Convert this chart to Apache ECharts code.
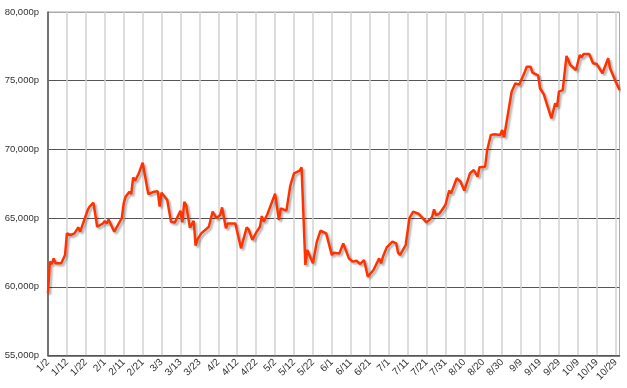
<!DOCTYPE html>
<html><head><meta charset="utf-8">
<script src="https://cdn.jsdelivr.net/npm/echarts@6/dist/echarts.min.js"></script>
<style>html,body{margin:0;padding:0;background:#fff}#c{width:627px;height:388px}</style>
</head><body><div id="c"></div>
<script>
// Trading dates (M/D) and prices
const dates = ['1/2','1/3','1/4','1/5','1/6','1/9','1/11','1/12','1/14','1/16','1/18','1/19','1/23','1/24','1/26','1/27','1/28','1/31',
'2/1','2/2','2/3','2/6','2/8','2/10','2/11','2/12','2/14','2/15','2/16','2/17','2/19','2/21','2/24','2/27',
'3/1','3/2','3/3','3/6','3/8','3/10','3/13','3/14','3/15','3/16','3/18','3/20','3/21','3/22','3/23','3/24','3/28','3/30',
'4/1','4/3','4/4','4/6','4/7','4/11','4/14','4/17','4/18','4/20','4/22','4/24','4/25','4/26','4/27','4/28',
'5/2','5/4','5/5','5/8','5/10','5/11','5/12','5/15','5/16','5/18','5/19','5/22','5/24','5/25','5/26','5/29','5/30',
'6/1','6/2','6/5','6/7','6/9','6/10','6/12','6/14','6/16','6/18','6/20','6/21','6/23','6/24','6/26','6/27','6/28','6/30',
'7/3','7/5','7/6','7/7','7/10','7/12','7/14','7/17','7/18','7/21','7/23','7/24','7/25','7/26','7/28','7/31',
'8/2','8/3','8/6','8/8','8/10','8/13','8/15','8/17','8/18','8/21','8/22','8/24','8/26','8/29','8/30','8/31',
'9/1','9/4','9/6','9/8','9/11','9/12','9/14','9/15','9/18','9/19','9/21','9/25','9/26','9/27','9/28','9/29',
'10/1','10/3','10/4','10/5','10/8','10/10','10/11','10/12','10/13','10/15','10/17','10/18','10/19','10/20','10/22','10/23','10/25','10/26','10/27','10/29','10/31'];
const prices = [59550,61830,61660,62070,61710,61710,62310,63890,63770,63890,64330,64010,65590,65830,66120,66030,64370,64610,
64780,64610,64900,64010,64500,64990,66070,66560,66920,66750,67970,67720,68260,69030,66750,66920,
66950,65830,66850,66320,64740,64670,65540,64690,66190,65950,64300,64800,63000,63450,63450,63890,64370,65470,
64990,65220,65780,64260,64610,64610,62800,64330,64180,63410,63940,64370,65150,64740,64740,65300,
66780,64860,65710,65540,67340,67480,68260,68450,68700,61590,62680,61710,63250,63300,64080,63890,63940,
62310,62480,62430,63160,62430,62070,61830,61900,61660,61950,60740,60740,61220,61100,62070,61710,62190,62870,
63290,63160,62480,62310,63040,64990,65470,65300,65300,64690,64910,65090,65640,65220,65350,65950,
67000,66800,67900,67650,67000,68260,68500,68010,68700,68740,69900,71050,71100,71050,71410,70880,
70800,74200,74810,74710,75660,76020,76020,75580,75390,74450,74000,72260,72140,73350,73110,74200,
74320,76800,76750,76140,75780,76870,76700,76940,76990,76940,76270,76380,76210,76310,75540,75420,76630,75900,76020,74930,74320];
const yMin = 55000, yMax = 80000, yStep = 5000;

// calendar categories 1/2 .. 10/31
const categories = [];
for (let t = Date.UTC(2019,0,2); t <= Date.UTC(2019,9,31); t += 86400000) {
  const d = new Date(t);
  categories.push((d.getUTCMonth()+1) + '/' + d.getUTCDate());
}
const lookup = {};
dates.forEach((d, i) => { lookup[d] = prices[i]; });
const seriesData = categories.map(c => (c in lookup) ? lookup[c] : null);

const chart = echarts.init(document.getElementById('c'), null, {renderer: 'canvas'});
chart.setOption({
  animation: false,
  backgroundColor: '#fff',
  grid: {left: 48, top: 12, right: 7.5, bottom: 32.5, show: true, borderColor: '#aaa', borderWidth: 1, backgroundColor: 'transparent'},
  xAxis: {
    type: 'category', data: categories, boundaryGap: false,
    axisLine: {lineStyle: {color: '#555', width: 1.5}},
    axisTick: {show: false},
    axisLabel: {interval: 9, rotate: 45, fontSize: 10, color: '#333', margin: 5, fontFamily: 'Liberation Sans'},
    splitLine: {show: true, interval: 9, lineStyle: {color: '#d2d2d2', width: 1.5}}
  },
  yAxis: {
    type: 'value', min: yMin, max: yMax, interval: yStep,
    axisLine: {show: true, lineStyle: {color: '#555', width: 1.5}},
    axisTick: {show: false},
    axisLabel: {fontSize: 9.5, color: '#333', margin: 9, fontFamily: 'Liberation Sans',
      formatter: v => v.toLocaleString('en-US') + 'p'},
    splitLine: {show: true, lineStyle: {color: ['#555','#555','#555','#555','#555','#aaa'], width: 1}}
  },
  series: [{
    type: 'line', data: seriesData, connectNulls: true, showSymbol: false, symbol: 'none',
    lineStyle: {color: '#ff3300', width: 2.5, shadowColor: 'rgba(0,0,0,0.3)', shadowBlur: 2, shadowOffsetX: 2, shadowOffsetY: 2}
  }]
});
</script>
</body></html>
